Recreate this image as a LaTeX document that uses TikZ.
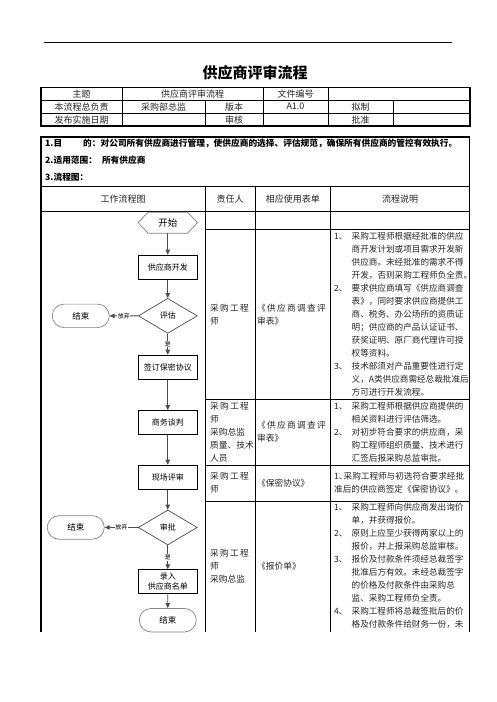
\documentclass[tikz,border=0pt]{standalone}
\usepackage{fontspec}
\setmainfont{Noto Sans CJK SC}
\newfontfamily\widecjk{Noto Sans CJK SC}[LetterSpace=15]
\usetikzlibrary{positioning,arrows.meta,shapes.geometric,shapes.misc}
\definecolor{flowgray}{HTML}{4D4D4D}
\definecolor{termgray}{HTML}{858585}
\definecolor{inkgray}{HTML}{262626}
\newcommand\sno[1]{\makebox[17.5pt][l]{#1、}}
\newcommand\sind{\hspace*{17.5pt}}

\begin{document}
\begin{tikzpicture}[x=1pt, y=-1pt,
  proc/.style={draw, line width=1.1pt, minimum width=59pt, minimum height=24pt,
               inner sep=1pt, align=center, font=\fontsize{8}{10}\selectfont},
  term/.style={draw=termgray, line width=0.7pt, rounded rectangle, minimum width=59pt,
               minimum height=23.5pt, inner sep=1pt, font=\fontsize{8.5}{10}\selectfont},
  hexnode/.style={minimum width=59pt, minimum height=20.6pt, inner sep=1pt,
                  font=\fontsize{9.5}{11}\selectfont},
  decide/.style={draw=flowgray, line width=0.7pt, diamond, aspect=1.7, minimum width=59pt,
                 minimum height=35pt, inner sep=0pt, font=\fontsize{8}{10}\selectfont},
  flow/.style={-{Triangle[length=5pt,width=4.5pt]}, draw=flowgray, line width=0.8pt},
  lbl/.style={fill=white, inner sep=0.6pt, font=\fontsize{6}{7}\selectfont},
  cell/.style={inner sep=0pt, text=inkgray, font=\fontsize{9}{11}\selectfont},
  who/.style={anchor=west, inner sep=0pt, align=left, text=inkgray, font=\fontsize{8.7}{13}\selectfont},
  desc/.style={anchor=west, inner sep=0pt, align=left, text=inkgray, font=\fontsize{8.6}{13}\selectfont},
  grid/.style={line width=0.9pt},
  frame/.style={line width=1.1pt}
]
  \useasboundingbox[fill=white] (0,0) rectangle (496,702);

  % title block
  \draw[line width=0.8pt] (44,42) -- (452,42);
  \node[font=\fontsize{15}{17}\selectfont\bfseries] (title) at (255,73) {供应商评审流程};

  \draw[frame] (41,87.3) rectangle (470,126);
  \draw[grid] (41,100) -- (470,100) (41,113.3) -- (470,113.3);
  \draw[grid] (122,87.3) -- (122,126) (263,87.3) -- (263,126) (328,87.3) -- (328,126);
  \draw[grid] (205,100) -- (205,126) (393,100) -- (393,126);
  \node[cell] (hSubj) at (81.5,93.7) {主题};
  \node[cell] (hName) at (192.5,93.7) {供应商评审流程};
  \node[cell] (hDoc) at (295.5,93.7) {文件编号};
  \node[cell] (hOwn) at (81.5,106.7) {本流程总负责};
  \node[cell] (hDir) at (163.5,106.7) {采购部总监};
  \node[cell] (hVer) at (234,106.7) {版本};
  \node[cell] (hVno) at (295.5,106.7) {A1.0};
  \node[cell] (hDraft) at (360.5,106.7) {拟制};
  \node[cell] (hDate) at (81.5,119.7) {发布实施日期};
  \node[cell] (hRev) at (234,119.7) {审核};
  \node[cell] (hApp) at (360.5,119.7) {批准};

  % main table
  \draw[frame] (41,632) -- (41,137) -- (469.5,137) -- (469.5,632);
  \draw[grid] (41,186) -- (469.5,186) (41,211.7) -- (469.5,211.7);
  \draw[grid] (205,186) -- (205,632) (255,186) -- (255,632) (330.7,186) -- (330.7,632);
  \draw[grid] (205,229.3) -- (469.5,229.3) (205,399) -- (469.5,399)
              (205,465) -- (469.5,465) (205,501) -- (469.5,501);

  \begin{scope}[every node/.style={anchor=west, inner sep=0pt, font=\fontsize{8.7}{10}\selectfont\bfseries}]
    \node (aim) at (45,143) {1.目\hspace{21pt}的：对公司所有供应商进行管理，使供应商的选择、评估规范，确保所有供应商的管控有效执行。};
    \node (scope) at (45,160) {2.适用范围：\hspace{5pt}所有供应商};
    \node (chart) at (45,177) {3.流程图：};
  \end{scope}

  \node[cell] (cFlow) at (123,199) {工作流程图};
  \node[cell] (cWho) at (230,199) {责任人};
  \node[cell] (cForm) at (292.8,199) {相应使用表单};
  \node[cell] (cNote) at (400,199) {流程说明};

  % responsible / forms
  \node[who] (w1) at (210,314.2) {{\widecjk 采购工程}\\师};
  \node[who] (w2) at (210,432) {{\widecjk 采购工程}\\师\\采购总监\\质量、技术\\人员};
  \node[who] (w3) at (210,483) {{\widecjk 采购工程}\\师};
  \node[who] (w4) at (210,566.5) {{\widecjk 采购工程}\\师\\采购总监};
  \node[who] (f1) at (257,314.2) {{\widecjk 《供应商调查评}\\审表》};
  \node[who] (f2) at (257,432) {{\widecjk 《供应商调查评}\\审表》};
  \node[who] (f3) at (257,483) {《保密协议》};
  \node[who] (f4) at (257,566.5) {《报价单》};

  % process notes
  \node[desc] (n1) at (334,314.2) {\sno{1}采购工程师根据经批准的供应\\
    \sind 商开发计划或项目需求开发新\\
    \sind 供应商。未经批准的需求不得\\
    \sind 开发，否则采购工程师负全责。\\
    \sno{2}要求供应商填写《供应商调查\\
    \sind 表》，同时要求供应商提供工\\
    \sind 商、税务、办公场所的资质证\\
    \sind 明；供应商的产品认证证书、\\
    \sind 获奖证明、原厂商代理许可授\\
    \sind 权等资料。\\
    \sno{3}技术部须对产品重要性进行定\\
    \sind 义，A类供应商需经总裁批准后\\
    \sind 方可进行开发流程。};
  \node[desc] (n2) at (334,432) {\sno{1}采购工程师根据供应商提供的\\
    \sind 相关资料进行评估筛选。\\
    \sno{2}对初步符合要求的供应商，采\\
    \sind 购工程师组织质量、技术进行\\
    \sind 汇签后报采购总监审批。};
  \node[desc] (n3) at (334,483) {\makebox[9.5pt][l]{1、}采购工程师与初选符合要求经批\\
    准后的供应商签定《保密协议》。};
  \node[desc, anchor=north west] (n4) at (334,503) {\sno{1}采购工程师向供应商发出询价\\
    \sind 单，并获得报价。\\
    \sno{2}原则上应至少获得两家以上的\\
    \sind 报价，并上报采购总监审核。\\
    \sno{3}报价及付款条件须经总裁签字\\
    \sind 批准后方有效。未经总裁签字\\
    \sind 的价格及付款条件由采购总\\
    \sind 监、采购工程师负全责。\\
    \sno{4}采购工程师将总裁签批后的价\\
    \sind 格及付款条件给财务一份，未};

  % flow chart
  \node[hexnode] (start) at (167.75,222.7) {开始};
  \draw[draw=termgray, line width=0.7pt] (start.west) -- ([xshift=10pt]start.north west)
    -- ([xshift=-10pt]start.north east) -- (start.east)
    -- ([xshift=-10pt]start.south east) -- ([xshift=10pt]start.south west) -- cycle;
  \node[proc, below=21.5pt of start] (dev) {供应商开发};
  \node[decide, below=18.2pt of dev] (eval) {评估};
  \node[term, left=28.3pt of eval] (endA) {结束};
  \node[proc, below=21pt of eval] (sign) {签订保密协议};
  \node[proc, below=30.3pt of sign] (nego) {商务谈判};
  \node[proc, below=29.5pt of nego] (site) {现场评审};
  \node[decide, below=19.8pt of site] (appr) {审批};
  \node[term, left=33.3pt of appr] (endB) {结束};
  \node[proc, below=24pt of appr] (enter) {录入\\供应商名单};
  \node[term, below=13.7pt of enter] (endC) {结束};

  \draw[flow] (start) -- (dev);
  \draw[flow] (dev) -- (eval);
  \draw[flow] (eval) -- node[lbl] {放弃} (endA);
  \draw[flow] (eval) -- node[lbl] {是} (sign);
  \draw[flow] (sign) -- (nego);
  \draw[flow] (nego) -- (site);
  \draw[flow] (site) -- (appr);
  \draw[flow] (appr) -- node[lbl] {放弃} (endB);
  \draw[flow] (appr) -- node[lbl] {是} (enter);
  \draw[flow] (enter) -- (endC);
\end{tikzpicture}
\end{document}
